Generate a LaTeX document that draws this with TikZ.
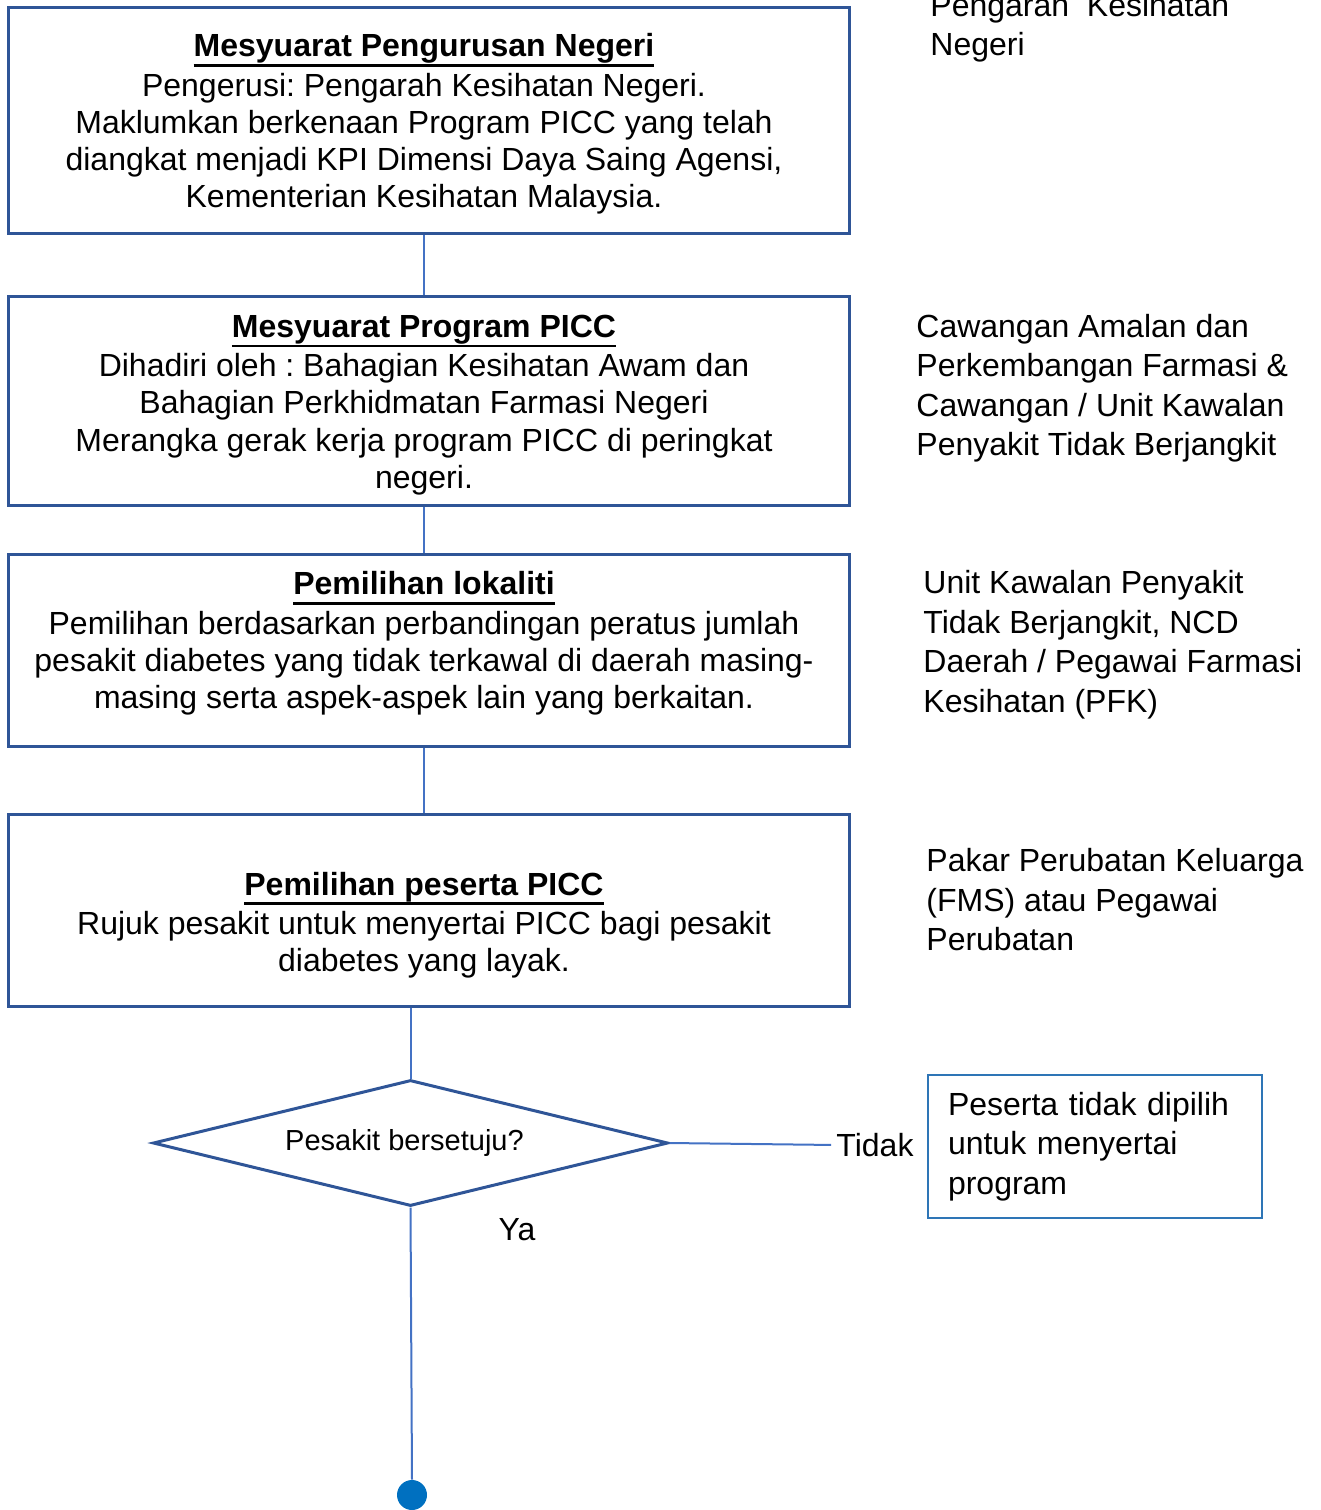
\documentclass[tikz,border=0pt]{standalone}
\usepackage{fontspec}
\setmainfont{Liberation Sans}
\usetikzlibrary{shapes.geometric}
\frenchspacing
\definecolor{frameblue}{HTML}{2F5597}
\definecolor{lineblue}{HTML}{4472C4}
\definecolor{sideblue}{HTML}{2E75B6}
\definecolor{dotblue}{HTML}{0070C0}
\newsavebox{\titlebox}
\newcommand{\boxtitle}[1]{\sbox{\titlebox}{\textbf{#1}}%
  \rlap{\vrule width\wd\titlebox height -3.6pt depth 4.9pt}\usebox{\titlebox}}
\tikzset{frame/.style={draw=frameblue, line width=1.5pt, minimum width=420.5pt, inner sep=0pt},
%text inside the four stage boxes
boxtext/.style={align=center, inner sep=0pt, font=\fontsize{16}{18.6}\selectfont},
sidetext/.style={align=left, anchor=west, inner sep=0pt, font=\fontsize{16}{19.75}\selectfont},
link/.style={draw=lineblue, line width=1pt}}

\begin{document}
\begin{tikzpicture}[x=0.5pt,y=-0.5pt]
\useasboundingbox (0,0) rectangle (1321,1510);
\coordinate (axis) at (424,0);

% stage boxes
\foreach \n/\y/\h in {b1/120/113, b2/400.5/104.5, b3/650/96, b4/910/96}
     \node[frame, minimum height=\h pt] (\n) at (428.5,\y) {};

\node[boxtext] (t1) at (424,124) {\boxtitle{Mesyuarat Pengurusan Negeri}\\[1pt]
  Pengerusi: Pengarah Kesihatan Negeri.\\Maklumkan berkenaan Program PICC yang telah\\
  diangkat menjadi KPI Dimensi Daya Saing Agensi,\\Kementerian Kesihatan Malaysia.};
\node[boxtext] (t2) at (424,405) {\boxtitle{Mesyuarat Program PICC}\\[1pt]
  Dihadiri oleh : Bahagian Kesihatan Awam dan\\Bahagian Perkhidmatan Farmasi Negeri\\
  Merangka gerak kerja program PICC di peringkat\\negeri.};
\node[boxtext] (t3) at (424,643.5) {\boxtitle{Pemilihan lokaliti}\\[1pt]
  Pemilihan berdasarkan perbandingan peratus jumlah\\pesakit diabetes yang tidak terkawal di daerah masing-\\
  masing serta aspek-aspek lain yang berkaitan.};
\node[boxtext] (t4) at (424,925) {\boxtitle{Pemilihan peserta PICC}\\[1pt]
  Rujuk pesakit untuk menyertai PICC bagi pesakit\\diabetes yang layak.};

% who is in charge
\node[sidetext] (r0) at (930,27.5) {Pengarah\ \ Kesihatan\\Negeri};
\node[sidetext] (r1) at (916,388) {Cawangan Amalan dan\\Perkembangan Farmasi \&\\Cawangan / Unit Kawalan\\Penyakit Tidak Berjangkit};
\node[sidetext] (r2) at (923,644.5) {Unit Kawalan Penyakit\\Tidak Berjangkit, NCD\\Daerah / Pegawai Farmasi\\Kesihatan (PFK)};
\node[sidetext] (r3) at (926,900) {Pakar Perubatan Keluarga\\(FMS) atau Pegawai\\Perubatan};

\draw[link] (b1.south -| axis) -- (b2.north -| axis);
\draw[link] (b2.south -| axis) -- (b3.north -| axis);
\draw[link] (b3.south -| axis) -- (b4.north -| axis);

% decision
\node[diamond, draw=frameblue, line width=1.5pt, aspect=4.09, minimum width=257.5pt, minimum height=63pt,
  inner sep=0pt, font=\fontsize{14.5}{17}\selectfont] (dia) at (410.5,1143) {Pesakit bersetuju?\hspace*{6pt}};
\draw[link] (b4.south -| dia.north) -- (dia.north);

\node[sidetext, anchor=center] (no) at (875,1145) {Tidak};
\node[draw=sideblue, line width=1pt, minimum width=167pt, minimum height=71.5pt, text width=147pt,
  inner xsep=10pt, inner ysep=0pt, align=left, font=\fontsize{16}{19.75}\selectfont] (reject) at (1095,1146.5)
  {Peserta tidak dipilih\\untuk menyertai\\program};
\draw[link, shorten >=2.5pt] (dia.east) -- (no.west);

\node[sidetext, anchor=center] (yes) at (517,1230) {Ya};
\node[circle, fill=dotblue, minimum size=15pt, inner sep=0pt] (dot) at (412,1495) {};
\draw[link] (dia.south) -- (dot.north);

\end{tikzpicture}
\end{document}
